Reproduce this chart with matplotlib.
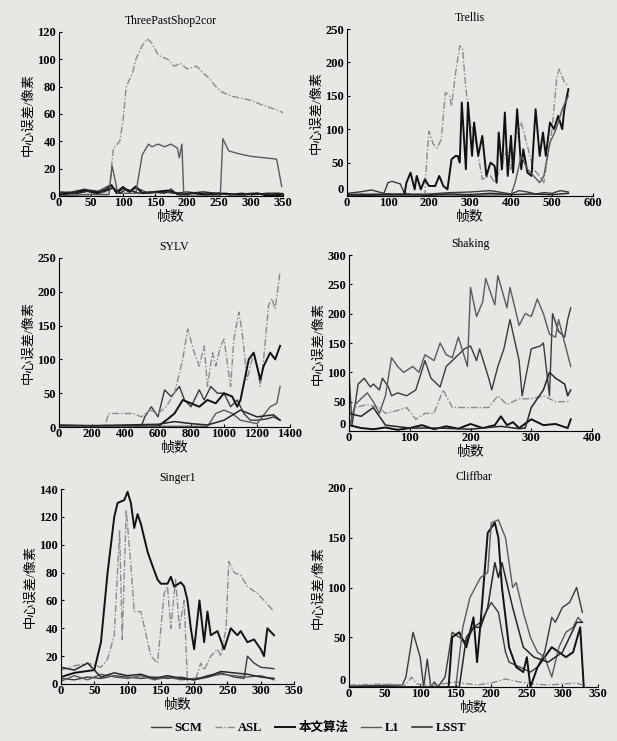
import matplotlib.pyplot as plt
import numpy as np

plt.rcParams['font.family'] = ['Liberation Serif', 'Noto Sans CJK SC']
plt.rcParams['font.weight'] = 'bold'

names = ["SCM", "ASL", "本文算法", "L1", "LSST"]
titles = ["ThreePastShop2cor", "Trellis", "SYLV", "Shaking", "Singer1", "Cliffbar"]

# ---- ThreePastShop2cor ----
tps_scm_f = [0, 20, 40, 60, 80, 90, 100, 110, 120, 140, 160, 180, 200, 220, 240, 260, 280, 300, 320, 340, 350]
tps_scm_e = [2, 3, 5, 3, 8, 3, 7, 3, 6, 2, 3, 2, 3, 2, 1, 2, 1, 2, 1, 1, 2]
tps_asl_f = [0, 40, 78, 85, 95, 100, 105, 115, 120, 130, 138, 145, 155, 170, 180, 190, 200, 215, 225, 235, 245, 255, 270, 290, 300, 315, 340, 350]
tps_asl_e = [1, 1, 2, 35, 40, 55, 80, 90, 100, 110, 115, 112, 103, 100, 95, 97, 93, 95, 90, 86, 80, 76, 73, 71, 70, 67, 63, 61]
tps_our_f = [0, 20, 40, 60, 75, 82, 90, 100, 110, 120, 130, 150, 170, 190, 210, 230, 250, 270, 290, 310, 330, 350]
tps_our_e = [1, 2, 4, 2, 5, 8, 2, 6, 3, 7, 2, 3, 4, 1, 2, 1, 2, 1, 1, 2, 0, 1]
tps_l1_f = [0, 40, 78, 83, 92, 120, 130, 140, 145, 155, 165, 175, 185, 188, 192, 195, 252, 256, 265, 280, 300, 320, 340, 348]
tps_l1_e = [0, 1, 1, 22, 2, 2, 30, 38, 36, 38, 36, 38, 35, 28, 38, 0, 0, 42, 33, 31, 29, 28, 27, 7]
tps_lsst_f = [0, 30, 50, 70, 85, 95, 105, 125, 145, 165, 175, 185, 205, 225, 245, 265, 285, 305, 325, 345, 350]
tps_lsst_e = [3, 2, 4, 3, 6, 2, 5, 2, 3, 2, 5, 1, 2, 3, 2, 1, 2, 1, 2, 2, 1]

# ---- Trellis ----
tre_scm_f = [0, 30, 60, 90, 100, 110, 130, 140, 160, 200, 250, 300, 350, 400, 420, 440, 460, 480, 500, 520, 540]
tre_scm_e = [4, 6, 9, 4, 20, 22, 18, 4, 3, 3, 5, 6, 8, 3, 8, 6, 3, 5, 4, 8, 6]
tre_asl_f = [0, 100, 190, 195, 200, 210, 220, 230, 240, 250, 255, 265, 275, 282, 290, 300, 310, 320, 330, 340, 350, 360, 370, 380, 390, 400, 410, 425, 440, 455, 470, 480, 490, 500, 512, 518, 530, 540]
tre_asl_e = [3, 3, 3, 60, 97, 78, 72, 85, 155, 150, 135, 185, 225, 220, 160, 110, 95, 60, 25, 28, 30, 20, 35, 50, 70, 40, 80, 110, 75, 40, 30, 20, 60, 100, 180, 190, 170, 165]
tre_our_f = [0, 140, 145, 155, 165, 170, 180, 190, 200, 215, 225, 235, 245, 255, 265, 270, 275, 280, 290, 295, 305, 310, 320, 330, 340, 350, 360, 365, 370, 378, 385, 392, 400, 405, 410, 415, 425, 430, 440, 450, 460, 470, 478, 485, 495, 505, 515, 525, 530, 540]
tre_our_e = [2, 2, 20, 35, 10, 30, 10, 25, 15, 15, 30, 15, 10, 55, 60, 60, 50, 140, 40, 140, 60, 110, 60, 90, 30, 50, 45, 20, 95, 40, 125, 30, 90, 35, 80, 130, 40, 70, 35, 30, 130, 60, 95, 60, 110, 100, 120, 100, 130, 160]
tre_l1_f = [0, 100, 200, 300, 400, 410, 425, 440, 455, 470, 480, 495, 510, 525, 540]
tre_l1_e = [1, 1, 2, 1, 2, 20, 60, 40, 30, 20, 30, 80, 100, 130, 150]
tre_lsst_f = [0, 50, 100, 150, 200, 250, 300, 350, 400, 450, 500, 540]
tre_lsst_e = [2, 1, 3, 2, 1, 3, 2, 4, 2, 3, 2, 4]

# ---- SYLV ----
syl_scm_f = [0, 200, 400, 500, 520, 560, 600, 640, 680, 730, 760, 800, 850, 880, 920, 960, 1000, 1040, 1080, 1120, 1160, 1200, 1260, 1300, 1340]
syl_scm_e = [2, 2, 2, 2, 15, 30, 15, 55, 45, 60, 40, 30, 55, 40, 60, 50, 50, 30, 40, 20, 10, 10, 12, 15, 10]
syl_asl_f = [0, 280, 300, 400, 450, 500, 550, 600, 650, 700, 750, 780, 820, 850, 880, 900, 930, 950, 980, 1000, 1040, 1060, 1090, 1110, 1140, 1180, 1200, 1220, 1240, 1270, 1290, 1310, 1340]
syl_asl_e = [2, 2, 20, 20, 20, 15, 25, 20, 30, 50, 100, 145, 110, 90, 120, 60, 110, 90, 120, 130, 60, 130, 170, 140, 70, 110, 90, 60, 100, 180, 190, 175, 230]
syl_our_f = [0, 600, 650, 700, 750, 800, 850, 900, 950, 1000, 1050, 1080, 1100, 1150, 1180, 1220, 1240, 1280, 1310, 1340]
syl_our_e = [1, 1, 10, 20, 40, 35, 30, 40, 35, 50, 45, 30, 40, 100, 110, 70, 90, 110, 100, 120]
syl_l1_f = [0, 900, 950, 1000, 1050, 1100, 1200, 1280, 1320, 1340]
syl_l1_e = [1, 1, 20, 25, 20, 10, 5, 30, 35, 60]
syl_lsst_f = [0, 200, 400, 600, 700, 800, 900, 1000, 1100, 1200, 1300, 1340]
syl_lsst_e = [3, 2, 3, 4, 8, 5, 3, 10, 25, 15, 18, 10]

# ---- Shaking ----
sha_scm_f = [0, 5, 15, 25, 35, 40, 50, 55, 65, 70, 80, 95, 110, 125, 135, 145, 150, 160, 175, 190, 200, 210, 215, 230, 235, 245, 255, 265, 280, 285, 300, 315, 320, 330, 335, 345, 355, 360, 365]
sha_scm_e = [100, 10, 80, 90, 75, 80, 70, 90, 75, 60, 65, 60, 70, 120, 90, 80, 75, 110, 125, 140, 145, 120, 140, 90, 70, 110, 140, 190, 120, 60, 140, 145, 150, 60, 200, 170, 160, 190, 210]
sha_asl_f = [0, 10, 30, 50, 60, 80, 95, 110, 125, 140, 155, 170, 200, 230, 245, 260, 280, 300, 320, 340, 365]
sha_asl_e = [5, 40, 45, 40, 30, 35, 40, 20, 30, 30, 70, 40, 40, 40, 60, 45, 55, 55, 60, 50, 50]
sha_our_f = [0, 20, 40, 60, 80, 100, 120, 140, 160, 180, 200, 220, 240, 250, 260, 270, 280, 300, 320, 340, 360, 365]
sha_our_e = [10, 5, 3, 6, 2, 5, 10, 3, 8, 4, 12, 5, 10, 25, 10, 15, 5, 20, 10, 12, 5, 20]
sha_l1_f = [0, 10, 20, 30, 40, 50, 60, 70, 80, 90, 105, 115, 125, 140, 150, 160, 170, 180, 195, 200, 210, 220, 225, 240, 245, 260, 265, 280, 290, 300, 310, 320, 330, 340, 345, 365]
sha_l1_e = [5, 45, 55, 65, 50, 30, 60, 125, 110, 100, 110, 100, 130, 120, 150, 130, 125, 160, 110, 245, 195, 220, 260, 215, 265, 210, 245, 180, 200, 195, 225, 200, 165, 160, 190, 110]
sha_lsst_f = [0, 20, 40, 60, 100, 150, 200, 250, 280, 290, 300, 320, 330, 340, 355, 360, 365]
sha_lsst_e = [30, 25, 40, 10, 5, 5, 3, 8, 4, 5, 40, 70, 100, 90, 80, 60, 70]

# ---- Singer1 ----
sin_scm_f = [0, 20, 40, 60, 80, 100, 120, 140, 160, 180, 200, 220, 240, 260, 275, 280, 290, 300, 320]
sin_scm_e = [4, 3, 5, 4, 6, 5, 4, 5, 4, 5, 3, 6, 8, 5, 4, 20, 15, 12, 11]
sin_asl_f = [0, 20, 40, 60, 70, 80, 88, 92, 98, 105, 110, 120, 135, 145, 155, 160, 165, 172, 178, 185, 190, 200, 210, 215, 225, 235, 240, 248, 252, 260, 270, 280, 295, 305, 320]
sin_asl_e = [10, 13, 15, 12, 18, 35, 110, 32, 125, 85, 52, 52, 20, 15, 65, 70, 40, 75, 40, 60, 0, 0, 15, 10, 20, 25, 20, 40, 88, 80, 78, 70, 65, 60, 52]
sin_our_f = [0, 20, 50, 60, 70, 80, 85, 95, 100, 105, 110, 115, 120, 130, 135, 145, 150, 160, 165, 170, 180, 185, 190, 195, 200, 208, 215, 220, 225, 235, 245, 255, 265, 270, 280, 290, 300, 305, 310, 320]
sin_our_e = [5, 8, 10, 30, 80, 120, 130, 132, 138, 130, 112, 122, 115, 95, 88, 75, 72, 72, 77, 70, 73, 70, 60, 40, 25, 60, 30, 52, 35, 38, 25, 40, 35, 38, 30, 32, 25, 20, 40, 35]
sin_l1_f = [0, 20, 40, 60, 80, 100, 120, 140, 160, 180, 200, 220, 240, 260, 280, 300, 320]
sin_l1_e = [2, 6, 3, 7, 5, 4, 6, 3, 5, 3, 4, 5, 7, 6, 5, 6, 3]
sin_lsst_f = [0, 20, 40, 60, 80, 100, 120, 140, 160, 180, 200, 220, 240, 260, 280, 300, 320]
sin_lsst_e = [12, 10, 15, 5, 8, 6, 7, 4, 6, 4, 3, 5, 9, 8, 7, 5, 4]

# ---- Cliffbar ----
cli_scm_f = [0, 75, 80, 90, 100, 105, 110, 115, 120, 125, 135, 145, 155, 165, 175, 185, 200, 210, 215, 220, 225, 240, 255, 265, 275, 285, 290, 300, 310, 320, 328]
cli_scm_e = [1, 2, 10, 55, 30, 0, 28, 0, 5, 0, 10, 55, 50, 45, 60, 65, 85, 75, 55, 35, 25, 20, 15, 20, 35, 70, 65, 80, 85, 100, 75]
cli_asl_f = [0, 50, 80, 88, 95, 120, 150, 180, 200, 220, 240, 260, 280, 300, 320, 328]
cli_asl_e = [2, 3, 2, 10, 3, 2, 5, 2, 4, 8, 5, 3, 2, 3, 4, 2]
cli_our_f = [0, 140, 145, 155, 165, 175, 180, 185, 195, 205, 210, 215, 225, 235, 245, 250, 255, 265, 275, 285, 295, 305, 315, 325, 330]
cli_our_e = [0, 0, 50, 55, 40, 70, 25, 65, 155, 165, 150, 100, 40, 20, 15, 30, 0, 20, 30, 40, 35, 30, 35, 60, 0]
cli_l1_f = [0, 150, 160, 170, 185, 195, 200, 210, 220, 230, 235, 245, 255, 265, 275, 285, 295, 305, 315, 322, 328]
cli_l1_e = [0, 0, 60, 90, 110, 115, 165, 168, 150, 100, 105, 75, 50, 35, 30, 10, 40, 55, 60, 70, 65]
cli_lsst_f = [0, 155, 165, 175, 185, 195, 205, 210, 215, 230, 245, 260, 280, 300, 320, 328]
cli_lsst_e = [0, 0, 50, 60, 60, 80, 125, 110, 125, 80, 40, 30, 25, 35, 65, 65]

series = [
    [(tps_scm_f, tps_scm_e), (tps_asl_f, tps_asl_e), (tps_our_f, tps_our_e), (tps_l1_f, tps_l1_e), (tps_lsst_f, tps_lsst_e)],
    [(tre_scm_f, tre_scm_e), (tre_asl_f, tre_asl_e), (tre_our_f, tre_our_e), (tre_l1_f, tre_l1_e), (tre_lsst_f, tre_lsst_e)],
    [(syl_scm_f, syl_scm_e), (syl_asl_f, syl_asl_e), (syl_our_f, syl_our_e), (syl_l1_f, syl_l1_e), (syl_lsst_f, syl_lsst_e)],
    [(sha_scm_f, sha_scm_e), (sha_asl_f, sha_asl_e), (sha_our_f, sha_our_e), (sha_l1_f, sha_l1_e), (sha_lsst_f, sha_lsst_e)],
    [(sin_scm_f, sin_scm_e), (sin_asl_f, sin_asl_e), (sin_our_f, sin_our_e), (sin_l1_f, sin_l1_e), (sin_lsst_f, sin_lsst_e)],
    [(cli_scm_f, cli_scm_e), (cli_asl_f, cli_asl_e), (cli_our_f, cli_our_e), (cli_l1_f, cli_l1_e), (cli_lsst_f, cli_lsst_e)],
]

xlims = [(0, 350), (0, 600), (0, 1400), (0, 400), (0, 350), (0, 350)]
xticks = [np.arange(0, 351, 50), np.arange(0, 601, 100), np.arange(0, 1401, 200),
          np.arange(0, 401, 100), np.arange(0, 351, 50), np.arange(0, 351, 50)]
ylims = [(0, 120), (0, 250), (0, 250), (0, 300), (0, 140), (0, 200)]
yticks = [np.arange(0, 121, 20), np.arange(0, 251, 50), np.arange(0, 251, 50),
          np.arange(0, 301, 50), np.arange(0, 141, 20), np.arange(0, 201, 50)]

# axes boxes in pixels: x0, x1, ytop, ybottom
boxes = [(59, 283, 32, 196), (347, 593, 29, 196), (59, 290, 258, 427),
         (349, 592, 255, 431), (61, 294, 489, 684), (349, 598, 488, 687)]

colors = ["#3a3a3a", "#8a8a8a", "#111111", "#5a5a5a", "#262626"]
styles = ["-", (0, (5, 1.5, 1, 1.5)), "-", "-", "-"]
widths = [1.0, 1.0, 1.4, 1.0, 1.1]

W, H = 617, 741
bg = "#e7e7e4"
fig = plt.figure(figsize=(W / 100, H / 100), dpi=100, facecolor=bg)

for i in range(6):
    x0, x1, yt, yb = boxes[i]
    ax = fig.add_axes([x0 / W, 1 - yb / H, (x1 - x0) / W, (yb - yt) / H])
    ax.set_facecolor(bg)
    for k in range(5):
        f, e = series[i][k]
        ax.plot(f, e, color=colors[k], linestyle=styles[k], linewidth=widths[k], label=names[k])
    ax.set_xlim(xlims[i])
    ax.set_ylim(ylims[i])
    ax.set_xticks(xticks[i])
    ax.set_yticks(yticks[i])
    ax.spines['top'].set_visible(False)
    ax.spines['right'].set_visible(False)
    ax.tick_params(direction='in', length=2, labelsize=9, pad=1)
    ax.tick_params(axis='y', pad=2)
    ax.set_title(titles[i], fontsize=8.5, pad=6)
    ax.set_xlabel("帧数", fontsize=10, labelpad=1)
    ax.set_ylabel("中心误差/像素", fontsize=9.5, labelpad=2)
    if i % 2 == 1:
        # right column: the y "0" sits raised beside the x "0", as in the scan
        ylab0 = ax.get_yticklabels()[0]
        ylab0.set_verticalalignment('bottom')

handles, labels = ax.get_legend_handles_labels()
fig.legend(handles, labels, loc='center', bbox_to_anchor=(0.5, 1 - 728 / H), ncol=5,
           frameon=False, fontsize=9, handlelength=1.6, handletextpad=0.3, columnspacing=1.0)

fig.savefig("out.png", dpi=100, facecolor=bg)
